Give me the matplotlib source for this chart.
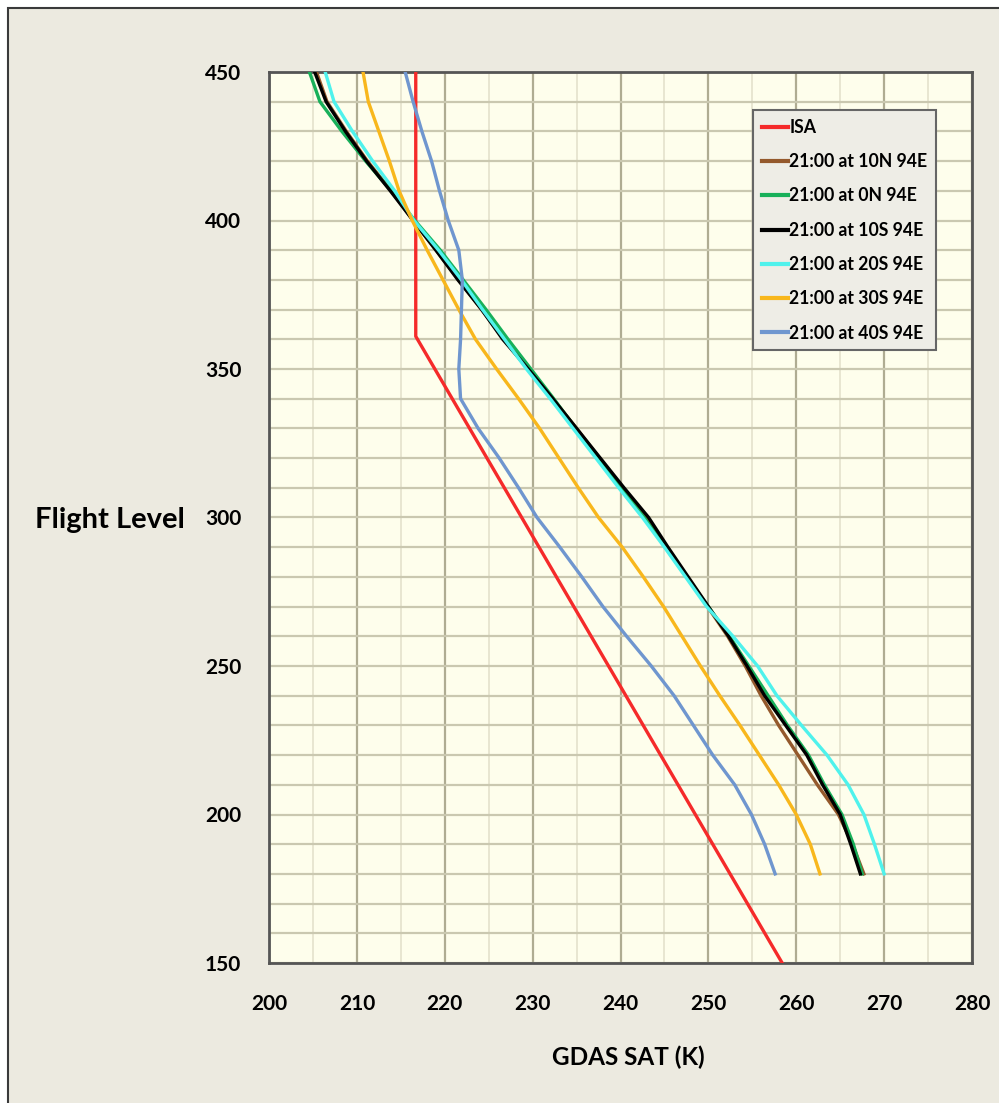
import matplotlib
matplotlib.use("Agg")
import matplotlib.pyplot as plt
from matplotlib.patches import Rectangle
from matplotlib.ticker import MultipleLocator

plt.rcParams['font.family'] = ['Lato', 'DejaVu Sans']
plt.rcParams['font.weight'] = 'bold'

fl = [180, 190, 200, 210, 220, 230, 240, 250, 260, 270, 280, 290, 300,
      310, 320, 330, 340, 350, 360, 370, 380, 390, 400, 410, 420, 430, 440, 450]

# ISA profile (K)
isa_fl = [150, 361, 450]
isa_t = [258.4, 216.7, 216.7]

# GDAS static air temperature (K) at 21:00, 94E
t_10n = [267.7, 266.4, 264.8, 262.4, 260.2, 258.0, 256.0, 254.2, 252.2, 249.9, 247.6, 245.3, 243.0,
         240.3, 237.6, 235.0, 232.3, 229.6, 226.8, 224.2, 221.6, 219.0, 216.4, 213.9, 211.2, 208.8, 206.6, 205.4]
t_0n = [267.5, 266.5, 265.2, 263.2, 261.4, 259.0, 256.8, 254.6, 252.4, 250.0, 247.5, 245.1, 242.7,
        240.0, 237.4, 234.9, 232.4, 229.8, 227.2, 224.7, 222.1, 219.5, 216.6, 213.9, 211.0, 208.3, 205.8, 204.6]
t_10s = [267.3, 266.2, 265.0, 263.0, 261.2, 258.8, 256.4, 254.4, 252.3, 250.0, 247.7, 245.4, 243.2,
         240.4, 237.7, 235.0, 232.3, 229.5, 226.6, 224.2, 221.5, 219.0, 216.4, 213.8, 211.1, 208.7, 206.5, 205.2]
t_20s = [270.0, 268.9, 267.7, 265.9, 263.5, 260.6, 257.8, 255.6, 252.8, 249.8, 247.4, 245.0, 242.5,
         239.8, 237.2, 234.6, 232.0, 229.3, 226.8, 224.3, 221.9, 219.3, 216.5, 214.3, 211.8, 209.5, 207.4, 206.4]
t_30s = [262.7, 261.6, 260.0, 258.0, 255.8, 253.6, 251.3, 249.1, 247.0, 244.9, 242.6, 240.2, 237.5,
         235.2, 233.0, 230.8, 228.4, 225.9, 223.5, 221.6, 219.8, 218.0, 216.3, 214.8, 213.7, 212.5, 211.3, 210.7]
t_40s = [257.6, 256.4, 254.9, 253.0, 250.5, 248.3, 246.1, 243.5, 240.7, 238.0, 235.6, 233.1, 230.5,
         228.4, 226.2, 223.8, 221.8, 221.6, 221.8, 221.9, 222.0, 221.6, 220.4, 219.4, 218.5, 217.4, 216.4, 215.5]

labels = ['ISA', '21:00 at 10N 94E', '21:00 at 0N 94E', '21:00 at 10S 94E',
          '21:00 at 20S 94E', '21:00 at 30S 94E', '21:00 at 40S 94E']
colors = ['#F52A2A', '#94592C', '#18B05A', '#000000', '#4FF2EC', '#F8B71C', '#6F96CF']
series = [t_10n, t_0n, t_10s, t_20s, t_30s, t_40s]

fig = plt.figure(figsize=(9.99, 11.03), dpi=100, facecolor='white')
fig.patches.append(Rectangle((8 / 999, -0.1), 1.2, 1.1 - 8 / 1103, transform=fig.transFigure,
                             facecolor='#ECEAE0', edgecolor='#3A3A3A', lw=1.5, zorder=-10))

ax = fig.add_axes([269 / 999, 140 / 1103, 703 / 999, 891 / 1103])
ax.set_facecolor('#FEFEEC')

ax.plot(isa_t, isa_fl, color=colors[0], lw=2.4, label=labels[0], zorder=3,
        solid_joinstyle='round')
for t, c, lab in zip(series, colors[1:], labels[1:]):
    ax.plot(t, fl, color=c, lw=2.4, label=lab, zorder=3, solid_joinstyle='round')

ax.set_xlim(200, 280)
ax.set_ylim(150, 450)
ax.xaxis.set_major_locator(MultipleLocator(10))
ax.xaxis.set_minor_locator(MultipleLocator(5))
ax.yaxis.set_major_locator(MultipleLocator(50))
ax.yaxis.set_minor_locator(MultipleLocator(10))

ax.grid(which='major', axis='x', color='#AFAC92', lw=1.6, zorder=0)
ax.grid(which='minor', axis='x', color='#E4E2CC', lw=1.2, zorder=0)
ax.grid(which='both', axis='y', color='#CAC8B0', lw=1.6, zorder=0)
ax.set_axisbelow(True)

ax.tick_params(which='both', length=0)
ax.tick_params(axis='y', pad=20, labelsize=15)
ax.tick_params(axis='x', pad=22, labelsize=15)
for lb in ax.get_xticklabels() + ax.get_yticklabels():
    lb.set_fontweight('bold')

for s in ax.spines.values():
    s.set_color('#555555')
    s.set_linewidth(2)

fig.text(628 / 999, 1 - 1057 / 1103, 'GDAS SAT (K)', fontsize=17.5, fontweight='bold',
         ha='center', va='center')
fig.text(185 / 999, 1 - 520 / 1103, 'Flight Level', fontsize=21, fontweight='bold',
         ha='right', va='center')

leg = ax.legend(loc='upper left', bbox_to_anchor=((753 - 269) / 703, (963 - 110) / 891),
                borderaxespad=0, frameon=True, fancybox=False,
                handlelength=1.5, handletextpad=0.05, labelspacing=0.98,
                borderpad=0.5, prop={'weight': 'bold', 'size': 12.7})
leg.get_frame().set_facecolor('#EEEDE6')
leg.get_frame().set_edgecolor('#666666')
leg.get_frame().set_linewidth(1.5)
leg.get_frame().set_alpha(1)
for ln in leg.get_lines():
    ln.set_linewidth(3)

fig.savefig('out.png', dpi=100, facecolor=fig.get_facecolor())
